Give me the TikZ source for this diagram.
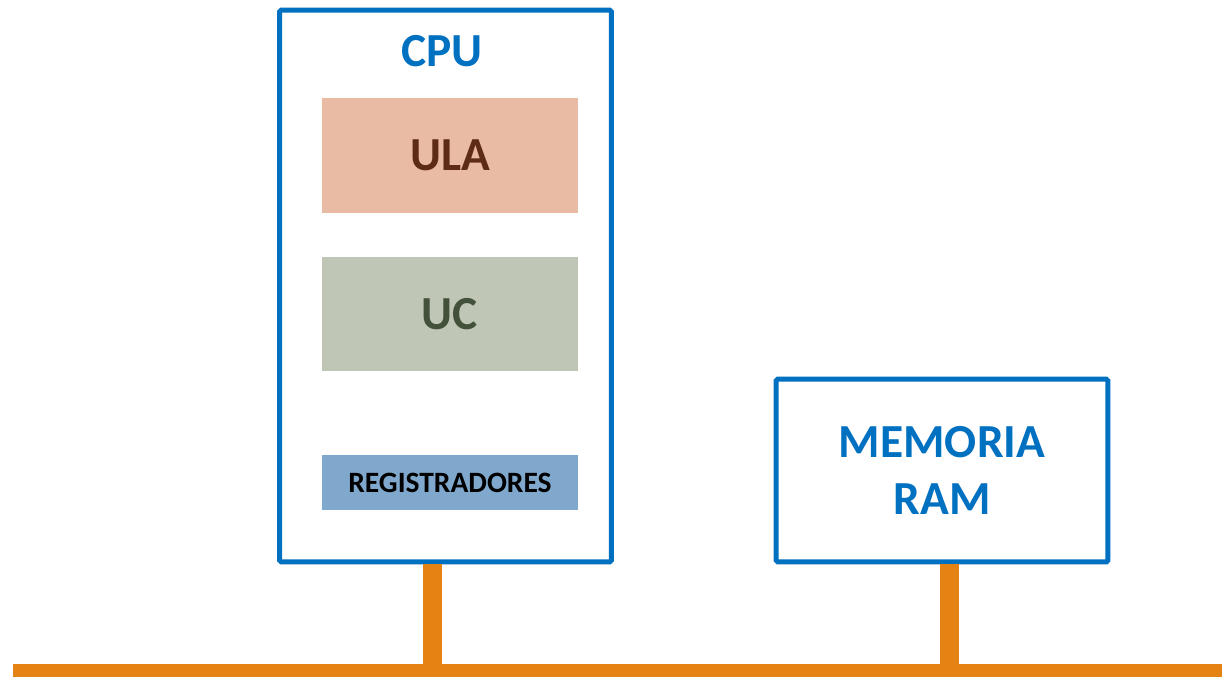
\documentclass[tikz,border=0pt]{standalone}
\usepackage{fontspec}
\setmainfont{Carlito}
\usepackage{tikz}
\usetikzlibrary{positioning,calc}
\definecolor{CpuBlue}{RGB}{0,112,192}
\definecolor{BusOrange}{RGB}{228,130,19}
\definecolor{UlaFill}{RGB}{233,187,164}
\definecolor{UlaText}{RGB}{94,44,22}
\definecolor{UcFill}{RGB}{192,198,182}
\definecolor{UcText}{RGB}{67,81,58}
\definecolor{RegFill}{RGB}{127,168,204}

\begin{document}
\begin{tikzpicture}[x=0.02cm,y=-0.02cm,
	bigtext/.style={font=\fontsize{27}{32.5}\selectfont\bfseries},
	unitbox/.style={rectangle,inner sep=0pt,minimum width=5.12cm},
	outerbox/.style={rectangle,draw=CpuBlue,line width=0.1cm,rounded corners=1pt,inner sep=0pt,minimum width=6.64cm},
	bus/.style={draw=BusOrange,line width=0.38cm}]
			\useasboundingbox (0,0) rectangle (1222,677);
			\node [outerbox,minimum height=11.04cm, name = cpu] at (445.5,286) {};
			\node [bigtext,text=CpuBlue, name = cpulabel] at (442,51) {CPU};
			\node [unitbox,fill=UlaFill,minimum height=2.3cm,bigtext,text=UlaText, name = ula] at (450,155.5) {ULA};
			\node [unitbox,fill=UcFill,minimum height=2.28cm,bigtext,text=UcText, name = uc] at (450,314) {UC};
			\node [unitbox,fill=RegFill,minimum height=1.1cm,font=\fontsize{16.8}{20}\selectfont\bfseries, name = reg] at (450,482.5) {REGISTRADORES};
			\node [outerbox,minimum height=3.66cm,bigtext,text=CpuBlue,align=center, name = ram] at (942,470.5) {MEMORIA\\RAM};
			\coordinate (busL) at (13,670.5);
			\coordinate (busR) at (1222,670.5);
			\coordinate (tapCpu) at (432.5,670.5);
			\coordinate (tapRam) at (949.5,670.5);
			\draw [bus] (cpu.south -| tapCpu) -- (tapCpu);
			\draw [bus] (ram.south -| tapRam) -- (tapRam);
			\draw [draw=BusOrange,line width=0.26cm] (busL) -- (busR);
		\end{tikzpicture}
\end{document}
